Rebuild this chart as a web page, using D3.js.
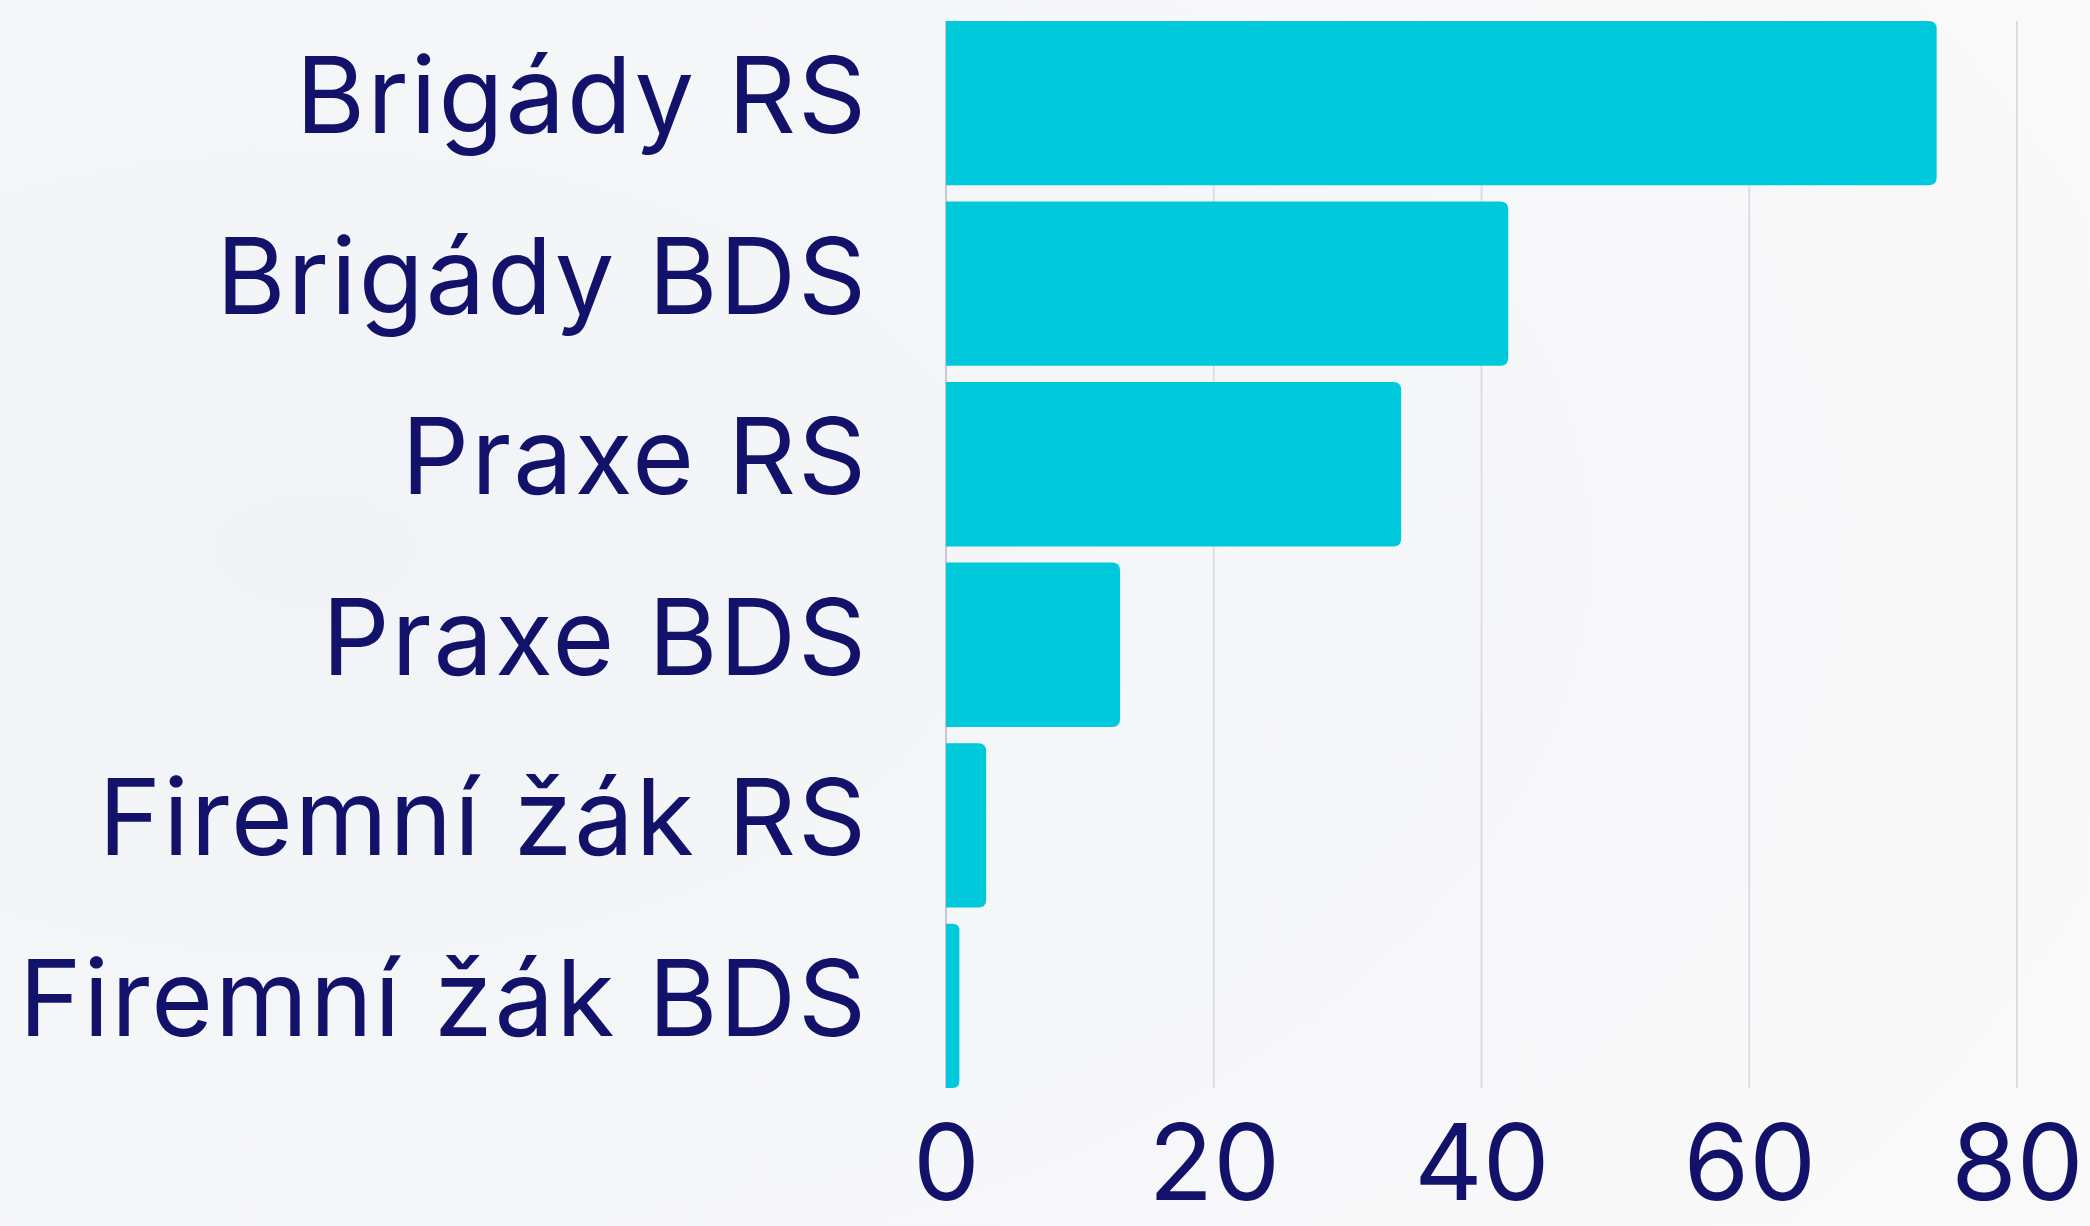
<!DOCTYPE html>
<html>
<head>
<meta charset="utf-8">
<script src="https://cdn.jsdelivr.net/npm/d3@7"></script>
<style>
  html, body { margin: 0; padding: 0; background: #f6f7f9; }
  svg { display: block; }
</style>
</head>
<body>
<div id="chart"></div>
<script>
const categories = ["Brigády RS", "Brigády BDS", "Praxe RS", "Praxe BDS", "Firemní žák RS", "Firemní žák BDS"];
const values = [74, 42, 34, 13, 3, 1];
const tickValues = [0, 20, 40, 60, 80];

const width = 2090, height = 1226;
const margin = {top: 21, right: 73, bottom: 138, left: 946};

const svg = d3.select("#chart")
    .append("svg")
    .attr("width", width)
    .attr("height", height);

// soft background
const defs = svg.append("defs");
const bg = defs.append("radialGradient").attr("id", "bg").attr("cx", "15%").attr("cy", "45%").attr("r", "90%");
bg.append("stop").attr("offset", "0%").attr("stop-color", "#f1f3f6");
bg.append("stop").attr("offset", "100%").attr("stop-color", "#f9f9fa");
svg.append("rect").attr("width", width).attr("height", height).attr("fill", "url(#bg)");

const x = d3.scaleLinear()
    .domain([0, 80])
    .range([margin.left, width - margin.right]);

const y = d3.scaleBand()
    .domain(categories)
    .range([margin.top, height - margin.bottom])
    .paddingInner(0.09)
    .paddingOuter(0);

// gridlines
svg.append("g")
    .selectAll("line")
    .data(tickValues)
    .join("line")
    .attr("x1", d => x(d))
    .attr("x2", d => x(d))
    .attr("y1", margin.top)
    .attr("y2", height - margin.bottom)
    .attr("stroke", d => d === 0 ? "#c9c6dc" : "#dddde6")
    .attr("stroke-width", 2);

// bars with rounded right end
const r = 8;
function barPath(d, i) {
    const x0 = x(0), x1 = x(d), y0 = y(categories[i]), h = y.bandwidth();
    const rr = Math.min(r, (x1 - x0) / 2);
    return `M${x0},${y0}H${x1 - rr}Q${x1},${y0} ${x1},${y0 + rr}V${y0 + h - rr}Q${x1},${y0 + h} ${x1 - rr},${y0 + h}H${x0}Z`;
}
svg.append("g")
    .selectAll("path")
    .data(values)
    .join("path")
    .attr("d", barPath)
    .attr("fill", "#00c9dc");

const font = "Inter, 'Noto Sans', sans-serif";

// category labels
svg.append("g")
    .selectAll("text")
    .data(categories)
    .join("text")
    .attr("x", margin.left - 78)
    .attr("y", d => y(d) + y.bandwidth() / 2 + 30)
    .attr("text-anchor", "end")
    .attr("font-family", font)
    .attr("font-size", 106)
    .attr("letter-spacing", 2)
    .attr("fill", "#12126b")
    .text(d => d);

// x tick labels
const xAxis = d3.axisBottom(x).tickValues(tickValues).tickSize(0).tickPadding(0);
const gx = svg.append("g")
    .attr("transform", `translate(0,${height - 26})`)
    .call(xAxis);
gx.select(".domain").remove();
gx.selectAll("text")
    .attr("dy", 0)
    .attr("font-family", font)
    .attr("font-size", 106)
    .attr("fill", "#12126b");
</script>
</body>
</html>
